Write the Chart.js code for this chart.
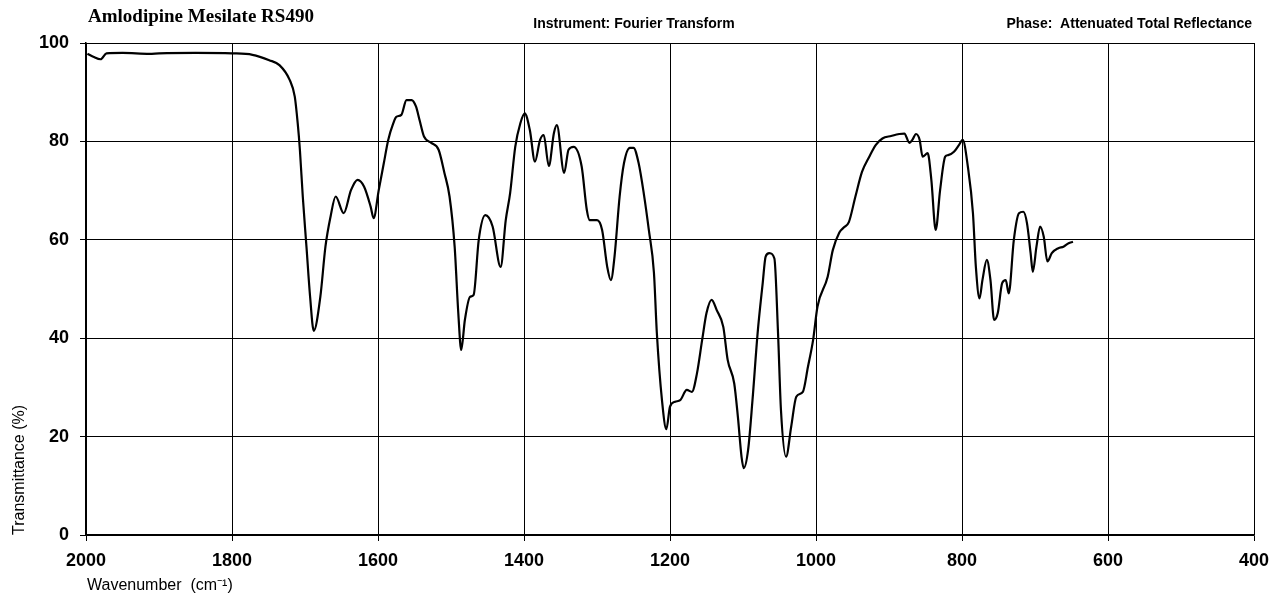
<!DOCTYPE html>
<html>
<head>
<meta charset="utf-8">
<title>Amlodipine Mesilate RS490</title>
<script src="https://cdn.jsdelivr.net/npm/chart.js@4.4.1/dist/chart.umd.min.js"></script>
<style>
    html, body { margin: 0; padding: 0; background: #fff; }
    #wrap { width: 1270px; height: 601px; }
</style>
</head>
<body>
<div id="wrap"><canvas id="spectrum" width="1270" height="601"></canvas></div>
<script>
// IR spectrum, wavenumber (cm-1) vs transmittance (%)
const wavenumbers = [
    1998, 1990, 1980, 1972, 1950, 1913, 1900, 1850, 1800, 1772,
    1749, 1735, 1721, 1714, 1710, 1707, 1703, 1698, 1693, 1688,
    1679, 1672, 1665, 1658, 1647, 1637, 1628, 1619, 1610, 1606,
    1599, 1592, 1586, 1579, 1575, 1568, 1561, 1554, 1548, 1543,
    1537, 1527, 1517, 1509, 1502, 1495, 1490, 1486, 1481, 1474,
    1469, 1462, 1453, 1443, 1432, 1425, 1419, 1412, 1405, 1399,
    1392, 1385, 1378, 1373, 1366, 1359, 1355, 1345, 1339, 1332,
    1321, 1314, 1310, 1300, 1293, 1286, 1281, 1276, 1269, 1263,
    1255, 1250, 1243, 1236, 1229, 1222, 1218, 1211, 1205, 1200,
    1193, 1186, 1177, 1170, 1163, 1156, 1150, 1143, 1136, 1127,
    1121, 1112, 1107, 1102, 1099, 1093, 1087, 1080, 1073, 1069,
    1064, 1057, 1052, 1048, 1041, 1034, 1027, 1018, 1011, 1004,
    998, 984, 977, 968, 962, 955, 946, 937, 927, 918,
    909, 897, 886, 879, 872, 868, 863, 858, 854, 847,
    842, 836, 830, 823, 819, 811, 804, 799, 792, 785,
    781, 776, 772, 766, 761, 756, 751, 745, 740, 736,
    729, 722, 716, 711, 706, 703, 698, 693, 688, 683,
    677, 668, 661, 654, 648
];
const transmittance = [
    97.8, 97.2, 96.7, 97.9, 98.0, 97.8, 97.9, 98.0, 97.9, 97.6,
    96.5, 95.5, 92.5, 89.1, 83.7, 78.3, 68.7, 58.6, 48.4, 41.5,
    48.4, 58.6, 64.7, 68.8, 65.4, 70.1, 72.2, 70.8, 66.7, 64.4,
    70.1, 75.6, 80.3, 83.7, 85.0, 85.4, 88.4, 88.4, 87.1, 84.3,
    81.0, 79.7, 78.3, 73.6, 68.8, 58.6, 45.1, 37.6, 43.7, 48.4,
    48.8, 60.0, 65.0, 62.7, 54.5, 64.0, 69.5, 78.9, 83.7, 85.7,
    82.3, 75.9, 80.3, 81.3, 75.0, 81.7, 83.3, 73.6, 78.3, 78.9,
    74.9, 66.1, 64.0, 64.0, 62.0, 54.5, 51.8, 56.6, 68.8, 75.6,
    78.7, 78.7, 75.6, 69.5, 62.0, 53.3, 41.0, 27.4, 21.5, 26.1,
    27.1, 27.4, 29.5, 29.1, 32.9, 39.6, 45.1, 47.8, 45.7, 42.3,
    35.6, 30.8, 24.0, 15.9, 13.6, 17.3, 27.4, 41.0, 51.2, 56.6,
    57.3, 56.2, 41.0, 25.4, 15.9, 22.0, 28.1, 29.1, 34.2, 39.6,
    46.4, 52.5, 57.9, 61.5, 62.5, 63.6, 68.8, 73.8, 76.9, 79.3,
    80.6, 81.1, 81.5, 81.6, 79.7, 80.3, 81.5, 80.3, 76.9, 77.6,
    72.2, 62.0, 70.1, 76.9, 77.2, 77.9, 79.3, 80.3, 74.9, 65.4,
    54.5, 48.1, 51.8, 55.9, 51.8, 43.7, 45.1, 51.2, 51.8, 49.1,
    60.0, 65.4, 65.7, 63.4, 57.3, 53.5, 58.6, 62.7, 60.6, 55.6,
    57.3, 58.3, 58.6, 59.3, 59.6
];
const xTicks = [2000, 1800, 1600, 1400, 1200, 1000, 800, 600, 400];
const yTicks = [0, 20, 40, 60, 80, 100];

const sampleName = 'Amlodipine Mesilate RS490';
const instrumentText = 'Instrument: Fourier Transform';
const phaseText = 'Phase:  Attenuated Total Reflectance';
const xTitle = 'Wavenumber  (cm\u207B\u00B9)';

const sans = "'Liberation Sans', Arial, sans-serif";

// header line above the plot plus the x axis caption under the left corner
const headerPlugin = {
    id: 'header',
    afterDraw(chart) {
        const ctx = chart.ctx;
        const left = chart.chartArea.left;
        ctx.save();
        ctx.fillStyle = '#000';
        ctx.textBaseline = 'middle';
        ctx.font = "bold 19px 'Liberation Serif', 'Times New Roman', serif";
        ctx.textAlign = 'left';
        ctx.fillText(sampleName, left + 2, 17);
        ctx.font = 'bold 14px ' + sans;
        ctx.textAlign = 'center';
        ctx.fillText(instrumentText, 634, 24);
        ctx.textAlign = 'right';
        ctx.fillText(phaseText, 1252, 24);
        ctx.font = '16px ' + sans;
        ctx.textAlign = 'left';
        ctx.fillText(xTitle, left + 1, 586);
        ctx.restore();
    }
};

const points = wavenumbers.map((w, i) => ({x: w, y: transmittance[i]}));

new Chart(document.getElementById('spectrum'), {
    type: 'line',
    data: {
        datasets: [{
            data: points,
            borderColor: '#000',
            borderWidth: 2.2,
            pointRadius: 0,
            fill: false,
            cubicInterpolationMode: 'monotone'
        }]
    },
    options: {
        responsive: false,
        animation: false,
        devicePixelRatio: 1,
        layout: {padding: {top: 43, right: 16, bottom: 0, left: 0}},
        plugins: {
            legend: {display: false},
            tooltip: {enabled: false}
        },
        scales: {
            x: {
                type: 'linear',
                reverse: true,
                min: 400,
                max: 2000,
                afterBuildTicks: scale => {
                    scale.ticks = xTicks.map(v => ({value: v}));
                },
                afterFit: scale => {
                    scale.height = 66;
                    scale.paddingLeft = 0;
                    scale.paddingRight = 0;
                },
                ticks: {
                    color: '#000',
                    font: {family: sans, size: 18, weight: 'bold'},
                    padding: 9,
                    maxRotation: 0,
                    autoSkip: false,
                    callback: v => String(v)
                },
                grid: {color: '#000', lineWidth: 1, tickLength: 6},
                border: {color: '#000', width: 1.5}
            },
            y: {
                min: 0,
                max: 100,
                afterBuildTicks: scale => {
                    scale.ticks = yTicks.map(v => ({value: v}));
                },
                afterFit: scale => { scale.width = 86; },
                ticks: {
                    color: '#000',
                    font: {family: sans, size: 18, weight: 'bold'},
                    padding: 11,
                    callback: v => String(v)
                },
                grid: {color: '#000', lineWidth: 1, tickLength: 6},
                border: {color: '#000', width: 1.5},
                title: {
                    display: true,
                    text: 'Transmittance (%)',
                    align: 'start',
                    color: '#000',
                    font: {family: sans, size: 16},
                    padding: {top: 10, bottom: 0}
                }
            }
        }
    },
    plugins: [headerPlugin]
});
</script>
</body>
</html>
